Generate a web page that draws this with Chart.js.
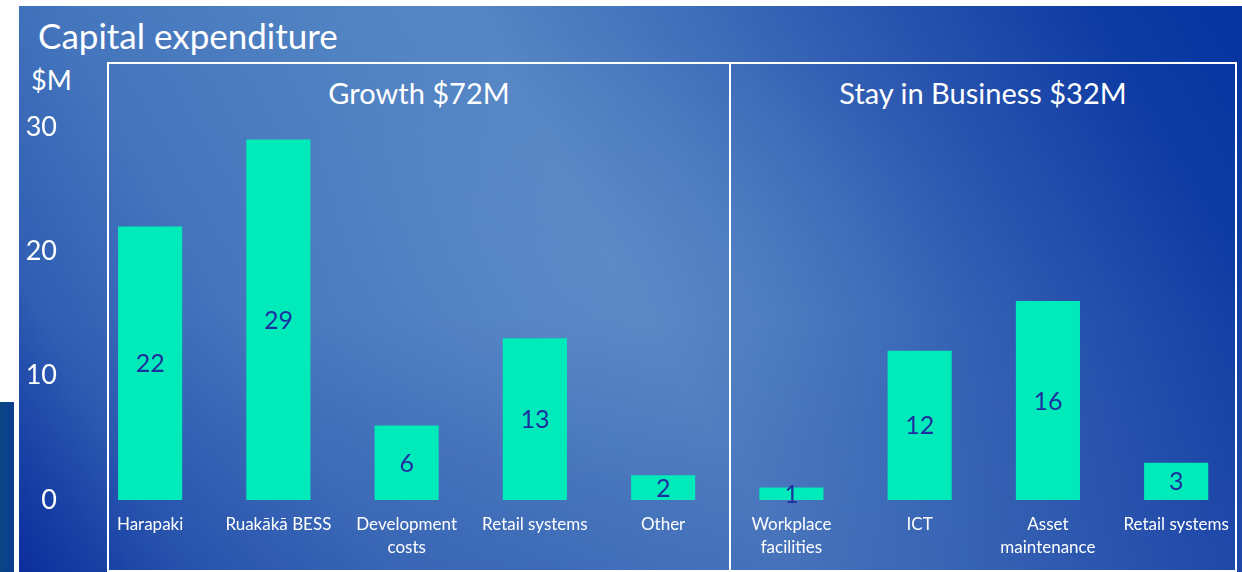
<!DOCTYPE html>
<html>
<head>
<meta charset="utf-8">
<script src="https://cdn.jsdelivr.net/npm/chart.js@4.4.1/dist/chart.umd.min.js"></script>
<style>
  html, body { margin: 0; padding: 0; background: #ffffff; }
  #wrap { position: relative; width: 1242px; height: 572px; overflow: hidden; background: #ffffff; font-family: Lato, "Open Sans", sans-serif; }
  #slide { position: absolute; left: 19px; top: 6px; width: 1223px; height: 566px;
    background:
      linear-gradient(180deg, rgba(10,40,150,0) 55%, rgba(10,40,150,0.22) 100%),
      radial-gradient(ellipse 30% 40% at 48% 45%, rgba(110,150,210,0.25), rgba(110,150,210,0) 100%),
      linear-gradient(60deg, #0b309e 0%, #2f5eb3 11%, #4576bd 24%, #5283c3 42%, #5686c4 50%, #4272bb 62%, #2a56b0 76%, #0f3ca3 90%, #0533a0 100%);
  }
  #sliver { position: absolute; left: 0; top: 402px; width: 14px; height: 170px;
    background: linear-gradient(90deg, #0a4682 0%, #0b3c90 100%); }
  .panel { position: absolute; top: 62px; height: 510px; border: 2px solid #ffffff; box-sizing: border-box; }
  #p1 { left: 107px; width: 624px; }
  #p2 { left: 729px; width: 508px; }
  .txt { position: absolute; color: #ffffff; white-space: nowrap; }
  #title { left: 38px; top: 18px; font-size: 35px; line-height: 35px; }
  #unit { left: 31px; top: 66px; font-size: 27px; line-height: 27px; }
  .hdr { font-size: 29px; line-height: 29px; top: 78px; text-align: center; }
  #h1 { left: 107px; width: 624px; }
  #h2 { left: 729px; width: 508px; }
  canvas { position: absolute; left: 0; top: 0; }
</style>
</head>
<body>
<div id="wrap">
  <div id="slide"></div>
  <div id="sliver"></div>
  <div class="panel" id="p1"></div>
  <div class="panel" id="p2"></div>
  <div class="txt" id="title">Capital expenditure</div>
  <div class="txt" id="unit">$M</div>
  <div class="txt hdr" id="h1">Growth $72M</div>
  <div class="txt hdr" id="h2">Stay in Business $32M</div>
  <canvas id="c" width="1242" height="572"></canvas>
</div>
<script>
const categories = [
  ['Harapaki'],
  ['Ruakākā BESS'],
  ['Development', 'costs'],
  ['Retail systems'],
  ['Other'],
  ['Workplace', 'facilities'],
  ['ICT'],
  ['Asset', 'maintenance'],
  ['Retail systems']
];
const capex = [22, 29, 6, 13, 2, 1, 12, 16, 3];
const yTicks = [0, 10, 20, 30];

const barLabels = {
  id: 'barLabels',
  afterDatasetsDraw(chart) {
    const ctx = chart.ctx;
    const meta = chart.getDatasetMeta(0);
    ctx.save();
    ctx.fillStyle = '#1c30a0';
    ctx.font = '25px Lato, "Open Sans", sans-serif';
    ctx.textAlign = 'center';
    ctx.textBaseline = 'middle';
    meta.data.forEach((el, i) => {
      const v = chart.data.datasets[0].data[i];
      ctx.fillText(String(v), el.x, (el.y + el.base) / 2 + 1);
    });
    ctx.restore();
  }
};

new Chart(document.getElementById('c'), {
  type: 'bar',
  data: {
    labels: categories,
    datasets: [{
      data: capex,
      backgroundColor: '#00ebb9',
      borderWidth: 0,
      barPercentage: 0.5,
      categoryPercentage: 1.0
    }]
  },
  options: {
    responsive: false,
    animation: false,
    events: [],
    layout: { padding: { top: 127, right: 1, left: 0, bottom: 0 } },
    plugins: { legend: { display: false }, tooltip: { enabled: false }, title: { display: false } },
    scales: {
      x: {
        offset: true,
        grid: { display: false, drawTicks: false },
        border: { display: false },
        ticks: {
          autoSkip: false, maxRotation: 0, minRotation: 0,
          color: '#ffffff',
          padding: 13,
          font: { family: 'Lato, "Open Sans", sans-serif', size: 17, lineHeight: 1.35 }
        },
        afterFit(scale) { scale.height = 72; }
      },
      y: {
        min: 0, max: 30,
        afterBuildTicks(scale) { scale.ticks = yTicks.map(v => ({ value: v })); },
        grid: { display: false, drawTicks: false },
        border: { display: false },
        ticks: {
          color: '#ffffff',
          padding: 29,
          font: { family: 'Lato, "Open Sans", sans-serif', size: 27 }
        },
        afterFit(scale) { scale.width = 86; }
      }
    }
  },
  plugins: [barLabels]
});
</script>
</body>
</html>
